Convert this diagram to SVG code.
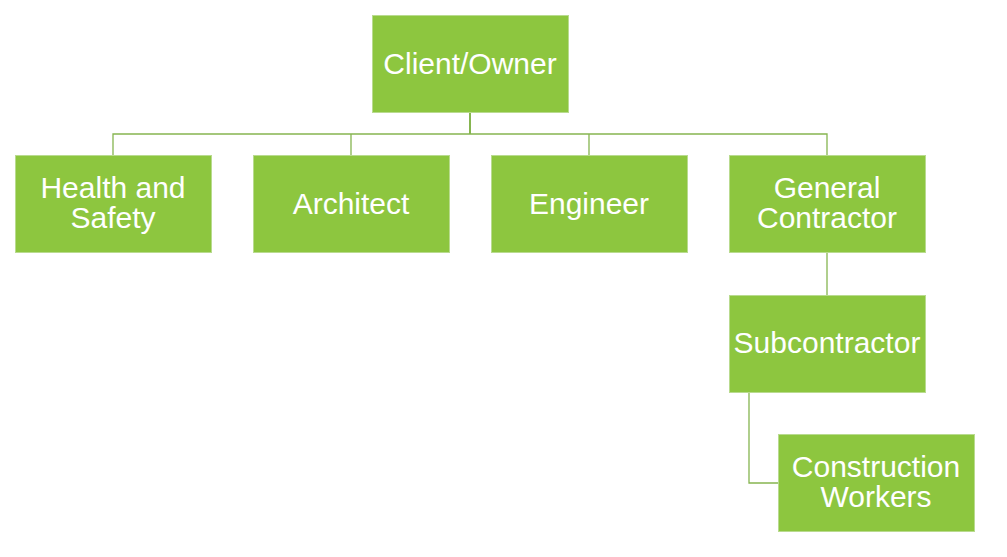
<svg xmlns="http://www.w3.org/2000/svg" width="1007" height="557" viewBox="0 0 1007 557">
<style>
.box{fill:#8DC63F;stroke:#B9DB8F;stroke-width:1}
.lbl{font-family:"Liberation Sans",Arial,sans-serif;font-size:30px;fill:#fff;text-anchor:middle}
.con{fill:none;stroke:#86B550;stroke-width:1.3}
</style>
<rect width="1007" height="557" fill="#fff"/>
<g id="connectors">
<path class="con" d="M113,155V134H827V155M351,134V155M589,134V155"/>
<path class="con" d="M470,113V134" style="stroke-width:2"/>
<path class="con" d="M827,252V295"/>
<path class="con" d="M749,392V483H778"/>
</g>
<g id="client"><rect class="box" x="372.5" y="15.5" width="196" height="97"/><text class="lbl" x="470" y="74">Client/Owner</text></g>
<g id="health"><rect class="box" x="15.5" y="155.5" width="196" height="97"/><text class="lbl" x="113" y="198">Health and</text><text class="lbl" x="113" y="228">Safety</text></g>
<g id="architect"><rect class="box" x="253.5" y="155.5" width="196" height="97"/><text class="lbl" x="351" y="214">Architect</text></g>
<g id="engineer"><rect class="box" x="491.5" y="155.5" width="196" height="97"/><text class="lbl" x="589" y="214">Engineer</text></g>
<g id="general"><rect class="box" x="729.5" y="155.5" width="196" height="97"/><text class="lbl" x="827" y="198">General</text><text class="lbl" x="827" y="228">Contractor</text></g>
<g id="subcontractor"><rect class="box" x="729.5" y="295.5" width="196" height="97"/><text class="lbl" x="827" y="353">Subcontractor</text></g>
<g id="workers"><rect class="box" x="778.5" y="434.5" width="196" height="97"/><text class="lbl" x="876" y="477">Construction</text><text class="lbl" x="876" y="507">Workers</text></g>
</svg>
